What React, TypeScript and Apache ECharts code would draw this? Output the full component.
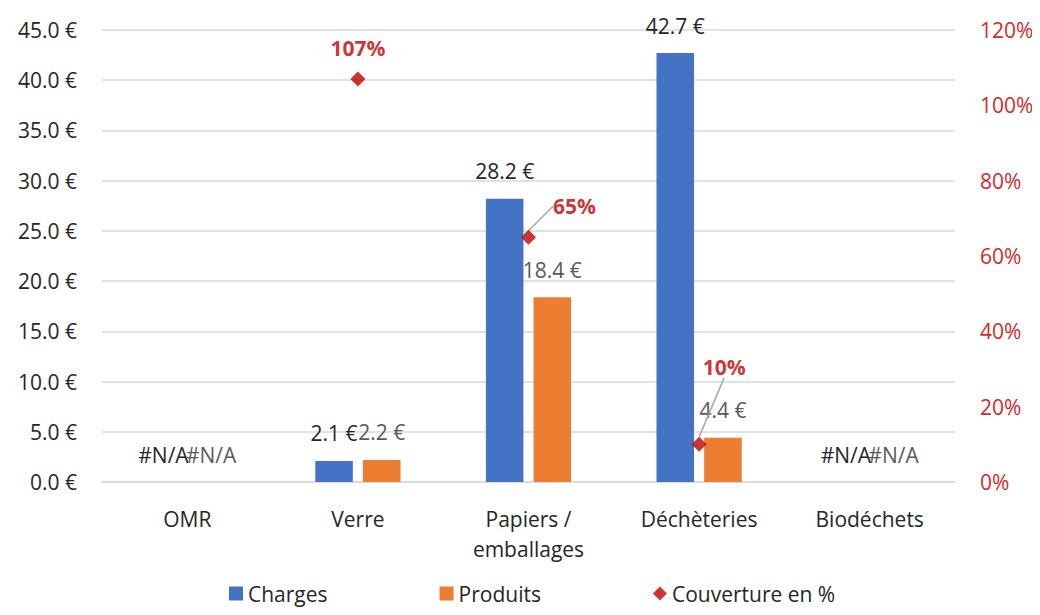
import React, { useEffect, useRef } from "react";
import * as echarts from "echarts";

const categories = ["OMR", "Verre", "Papiers /\nemballages", "Déchèteries", "Biodéchets"];
const charges: (number | null)[] = [null, 2.1, 28.2, 42.7, null];
const produits: (number | null)[] = [null, 2.2, 18.4, 4.4, null];
const couverture: (number | null)[] = [null, 1.07, 0.65, 0.1, null];
// label offsets for the coverage labels (dx, dy) in px
const couvLabelShift: [number, number][] = [[0, 0], [0, 0], [46, 0], [25, -46], [0, 0]];

const FONT = "'Open Sans', 'Noto Sans', sans-serif";
const FS = 21;

function euro(v: number) {
  return v.toFixed(1) + " €";
}

export default function App() {
  const ref = useRef<HTMLDivElement>(null);
  useEffect(() => {
    if (!ref.current) return;
    const chart = echarts.init(ref.current, undefined, { renderer: "svg" });
    const barData = (arr: (number | null)[]) =>
      arr.map((v) => (v === null ? { value: 0, na: true } : { value: v, na: false }));
    const barLabel = (color: string) => ({
      show: true,
      position: "top",
      distance: 17,
      color,
      fontSize: FS,
      fontFamily: FONT,
      formatter: (p: any) => (p.data.na ? "#N/A" : euro(p.value)),
    });
    chart.setOption({
      animation: false,
      textStyle: { fontFamily: FONT },
      grid: { left: 102, right: 85, top: 30, bottom: 133 },
      legend: {
        left: 224,
        top: 578,
        itemWidth: 14,
        itemHeight: 14,
        itemGap: 112,
        textStyle: { fontSize: FS, color: "#262626", fontFamily: FONT },
        data: [
          { name: "Charges", icon: "rect" },
          { name: "Produits", icon: "rect" },
          { name: "Couverture en %", icon: "diamond" },
        ],
      },
      xAxis: {
        type: "category",
        data: categories,
        axisLine: { lineStyle: { color: "#d9d9d9", width: 1.5 } },
        axisTick: { show: false },
        axisLabel: { color: "#262626", fontSize: FS, margin: 22, fontFamily: FONT, lineHeight: 30 },
      },
      yAxis: [
        {
          type: "value",
          min: 0,
          max: 45,
          interval: 5,
          axisLine: { show: false },
          axisTick: { show: false },
          splitLine: { lineStyle: { color: "#d9d9d9", width: 1.5 } },
          axisLabel: {
            color: "#262626",
            fontSize: FS,
            margin: 25,
            fontFamily: FONT,
            formatter: (v: number) => euro(v),
          },
        },
        {
          type: "value",
          min: 0,
          max: 1.2,
          interval: 0.2,
          axisLine: { show: false },
          axisTick: { show: false },
          splitLine: { show: false },
          axisLabel: {
            color: "#d42a2a",
            fontSize: FS,
            margin: 25,
            fontFamily: FONT,
            formatter: (v: number) => Math.round(v * 100) + "%",
          },
        },
      ],
      series: [
        {
          name: "Charges",
          type: "bar",
          data: barData(charges),
          barWidth: "22%",
          barGap: "27%",
          itemStyle: { color: "#4472c4" },
          label: barLabel("#262626"),
        },
        {
          name: "Produits",
          type: "bar",
          data: barData(produits),
          barWidth: "22%",
          itemStyle: { color: "#ed7d31" },
          label: barLabel("#595959"),
        },
        {
          name: "Couverture en %",
          type: "scatter",
          yAxisIndex: 1,
          symbol: "diamond",
          symbolSize: 15,
          itemStyle: { color: "#c00000" },
          data: couverture.map((v, i) =>
            v === null
              ? null
              : {
                  value: v,
                  labelLine: { show: couvLabelShift[i][0] !== 0 || couvLabelShift[i][1] !== 0 },
                }
          ),
          label: {
            show: true,
            position: "top",
            distance: 13,
            color: "#c00000",
            fontWeight: "bold",
            fontSize: FS,
            fontFamily: FONT,
            formatter: (p: any) => Math.round(p.value * 100) + "%",
          },
          labelLine: { show: true, lineStyle: { color: "#a6a6a6", width: 1.5 } },
          labelLayout: (p: any) => {
            const s = couvLabelShift[p.dataIndex] || [0, 0];
            return { dx: s[0], dy: s[1] };
          },
        },
      ],
    });
    return () => chart.dispose();
  }, []);
  return <div ref={ref} style={{ width: 1040, height: 615, margin: -8 }} />;
}
